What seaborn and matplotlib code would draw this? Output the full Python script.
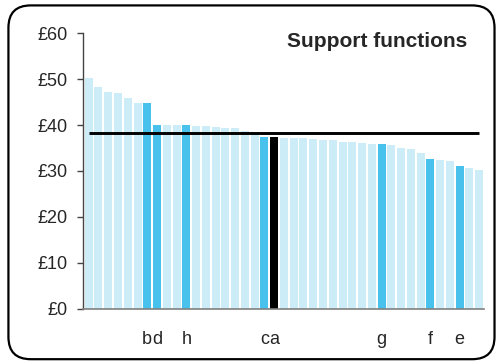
import matplotlib
matplotlib.use("Agg")
import matplotlib.pyplot as plt
import seaborn as sns
import pandas as pd
from matplotlib.patches import FancyBboxPatch

# ---- data ----
values = [50.2, 48.2, 47.3, 46.9, 45.8, 44.9, 44.9, 40.1, 40.1, 39.9,
          39.9, 39.7, 39.7, 39.5, 39.3, 39.3, 38.6, 38.4, 37.5, 37.5,
          37.1, 37.1, 37.1, 36.9, 36.7, 36.7, 36.4, 36.4, 36.0, 35.8,
          35.8, 35.6, 34.9, 34.7, 33.8, 32.7, 32.3, 32.1, 31.0, 30.6, 30.1]
bar_labels = ['', '', '', '', '', '', 'b', 'd', '', '',
              'h', '', '', '', '', '', '', '', 'c', 'a',
              '', '', '', '', '', '', '', '', '', '',
              'g', '', '', '', '', 'f', '', '', 'e', '', '']
# group: 0 = other, 1 = highlighted, 2 = selected
groups = [0, 0, 0, 0, 0, 0, 1, 1, 0, 0,
          1, 0, 0, 0, 0, 0, 0, 0, 1, 2,
          0, 0, 0, 0, 0, 0, 0, 0, 0, 0,
          1, 0, 0, 0, 0, 1, 0, 0, 1, 0, 0]
average = 38.3
title = "Support functions"
yticks = [0, 10, 20, 30, 40, 50, 60]
ytick_labels = ["£0", "£10", "£20", "£30", "£40", "£50", "£60"]

group_colors = {0: "#CCECF8", 1: "#48C2EC", 2: "#000000"}

df = pd.DataFrame({"pos": list(range(len(values))), "value": values,
                   "group": groups})

sns.set_style("white")
plt.rcParams["font.family"] = ["Liberation Sans", "DejaVu Sans"]

fig = plt.figure(figsize=(4.96, 3.61), dpi=100)
ax = fig.add_axes([0.168, 0.145, 0.807, 0.763])

palette = [group_colors[g] for g in groups]
sns.barplot(data=df, x="pos", y="value", hue="pos", palette=palette,
            legend=False, width=0.82, saturation=1, ax=ax, linewidth=0)

ax.plot([0, len(values) - 1], [average, average], color="black", lw=2.1,
        solid_capstyle="butt")

ax.set_xlim(-0.55, len(values) - 0.55)
ax.set_ylim(0, 60)
ax.set_yticks(yticks)
ax.set_yticklabels(ytick_labels, fontsize=13)
ax.set_xticks(range(len(values)))
ax.set_xticklabels(bar_labels, fontsize=13)
ax.tick_params(axis="x", length=0, pad=16)
ax.tick_params(axis="y", length=4, width=1, color="#444444", direction="out",
               pad=7, left=True)
ax.set_xlabel("")
ax.set_ylabel("")

for s in ["top", "right"]:
    ax.spines[s].set_visible(False)
ax.spines["left"].set_color("#444444")
ax.spines["left"].set_linewidth(1)
ax.spines["bottom"].set_color("#808080")
ax.spines["bottom"].set_linewidth(1.2)

ax.text(0.959, 0.951, title, transform=ax.transAxes, ha="right",
        va="baseline", fontsize=15, fontweight="bold")

frame = FancyBboxPatch((0.017, 0.005), 0.997 - 0.017, 0.985 - 0.005,
                       boxstyle="round,pad=0,rounding_size=0.045",
                       transform=fig.transFigure, fill=False,
                       edgecolor="black", linewidth=1.6, clip_on=False,
                       mutation_aspect=496 / 361)
fig.patches.append(frame)

fig.savefig("out.png", dpi=100)
